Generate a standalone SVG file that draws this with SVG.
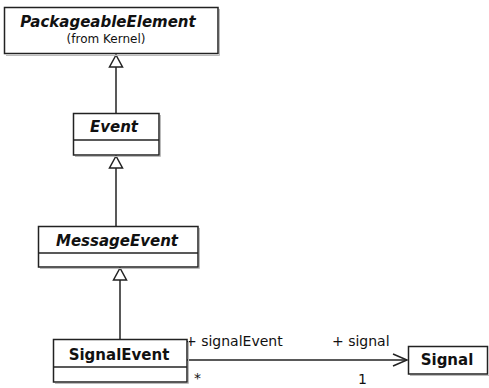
<svg xmlns="http://www.w3.org/2000/svg" width="489" height="388" viewBox="0 0 489 388">
<style>
.box{fill:#fff;stroke:#222;stroke-width:1.5}
.shadow{fill:none;stroke:#bbb;stroke-width:1}
.div{stroke:#222;stroke-width:1.5}
.name{font-family:"DejaVu Sans",Verdana,sans-serif;font-size:15px;font-weight:bold;fill:#111;text-anchor:middle}
.abs{font-style:italic}
.small{font-family:"DejaVu Sans",Verdana,sans-serif;font-size:12px;fill:#111;text-anchor:middle}
.lbl{font-family:"DejaVu Sans",Verdana,sans-serif;font-size:14px;fill:#111}
.edge{fill:none;stroke:#222;stroke-width:1.5}
.tri{fill:#fff;stroke:#222;stroke-width:1.5}
</style>
<rect width="489" height="388" fill="#fff"/>
<g id="connectors">
<line class="edge" x1="116" y1="67" x2="116" y2="113"/>
<polygon class="tri" points="116,55 109.5,67 122.5,67"/>
<line class="edge" x1="116" y1="168" x2="116" y2="226"/>
<polygon class="tri" points="116,156 109.5,168 122.5,168"/>
<line class="edge" x1="120" y1="280" x2="120" y2="339"/>
<polygon class="tri" points="120,268 113.5,280 126.5,280"/>
<line class="edge" x1="187" y1="360" x2="407" y2="360"/>
<polyline class="edge" points="393,354 407,360 393,366"/>
<text class="lbl" x="185" y="346">+ signalEvent</text>
<text class="lbl" x="332" y="346">+ signal</text>
<text class="lbl" x="194" y="383">*</text>
<text class="lbl" x="358" y="384">1</text>
</g>
<g id="PackageableElement">
<polyline class="shadow" points="219.5,9 219.5,55.5 6,55.5"/>
<rect class="box" x="4.5" y="7.5" width="213.5" height="46"/>
<text class="name abs" x="108" y="27">PackageableElement</text>
<text class="small" x="106" y="43">(from Kernel)</text>
</g>
<g id="Event">
<polyline class="shadow" points="160.5,115 160.5,156.5 75,156.5"/>
<rect class="box" x="73.5" y="113.5" width="85.5" height="41.5"/>
<line class="div" x1="73.5" y1="140" x2="159" y2="140"/>
<text class="name abs" x="114" y="132">Event</text>
</g>
<g id="MessageEvent">
<polyline class="shadow" points="199.5,228 199.5,268.5 40,268.5"/>
<rect class="box" x="38.5" y="226.5" width="159.5" height="40.5"/>
<line class="div" x1="38.5" y1="253" x2="198" y2="253"/>
<text class="name abs" x="117" y="246">MessageEvent</text>
</g>
<g id="SignalEvent">
<polyline class="shadow" points="188.5,341 188.5,383.5 55,383.5"/>
<rect class="box" x="53.5" y="339.5" width="133.5" height="42.5"/>
<line class="div" x1="53.5" y1="367" x2="187" y2="367"/>
<text class="name" x="119" y="360">SignalEvent</text>
</g>
<g id="Signal">
<polyline class="shadow" points="410,375.5 489,375.5"/>
<rect class="box" x="408.5" y="346.5" width="79" height="27.5"/>
<text class="name" x="447" y="365">Signal</text>
</g>
</svg>
